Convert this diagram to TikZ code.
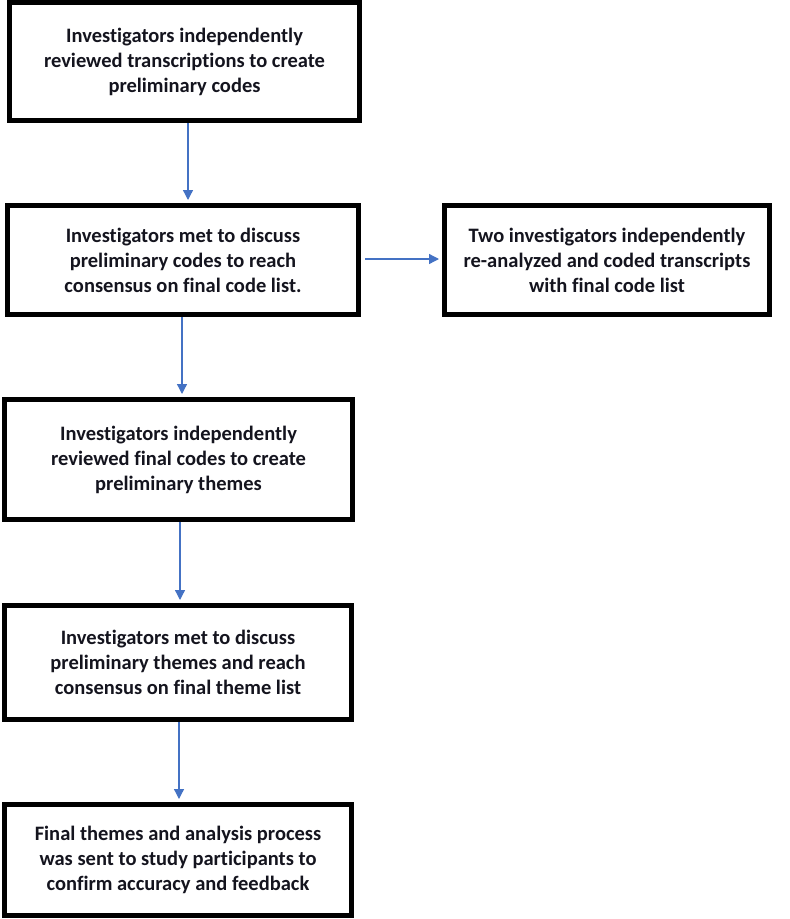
\documentclass[tikz,border=0pt]{standalone}
\usepackage{fontspec}
\setmainfont{Carlito}[Ligatures={NoCommon}]
\usetikzlibrary{arrows.meta}
\definecolor{arrowblue}{RGB}{68,114,196}
\definecolor{txt}{RGB}{20,20,30}
\tikzset{
  stepbox/.style={draw=black, line width=5pt, fill=white, rectangle, align=center,
    inner sep=0pt, text=txt, font=\fontsize{20.5}{25}\selectfont\bfseries},
  arr/.style={draw=arrowblue, line width=1.3pt, -{Triangle[width=10pt,length=10pt]}, shorten >=3pt}
}
\begin{document}
\begin{tikzpicture}[x=1pt,y=-1pt]
\useasboundingbox (0,0) rectangle (790,919);
\node[stepbox, minimum width=350pt, minimum height=118pt] (b1) at (184.5,61.5)
  {Investigators independently\\reviewed transcriptions to create\\preliminary codes};
\node[stepbox, minimum width=351pt, minimum height=109pt] (b2) at (183,260)
  {Investigators met to discuss\\preliminary codes to reach\\consensus on final code list.};
\node[stepbox, minimum width=325pt, minimum height=109pt] (b3) at (607,260)
  {Two investigators independently\\re-analyzed and coded transcripts\\with final code list};
\node[stepbox, minimum width=348pt, minimum height=120pt] (b4) at (178.5,459.5)
  {Investigators independently\\reviewed final codes to create\\preliminary themes};
\node[stepbox, minimum width=347pt, minimum height=114pt] (b5) at (178,662.5)
  {Investigators met to discuss\\preliminary themes and reach\\consensus on final theme list};
\node[stepbox, minimum width=347pt, minimum height=111pt] (b6) at (178,860)
  {Final themes and analysis process\\was sent to study participants to\\confirm accuracy and feedback};
\draw[arr] ([xshift=3.5pt]b1.south) -- ([xshift=3.5pt]b1.south |- b2.north);
\draw[arr] ([xshift=-1pt]b2.south) -- ([xshift=-1pt]b2.south |- b4.north);
\draw[arr] ([xshift=1.5pt]b4.south) -- ([xshift=1.5pt]b4.south |- b5.north);
\draw[arr] ([xshift=1pt]b5.south) -- ([xshift=1pt]b5.south |- b6.north);
\draw[arr] ([xshift=4pt,yshift=1pt]b2.east) -- ([yshift=1pt]b3.west);
\end{tikzpicture}
\end{document}
